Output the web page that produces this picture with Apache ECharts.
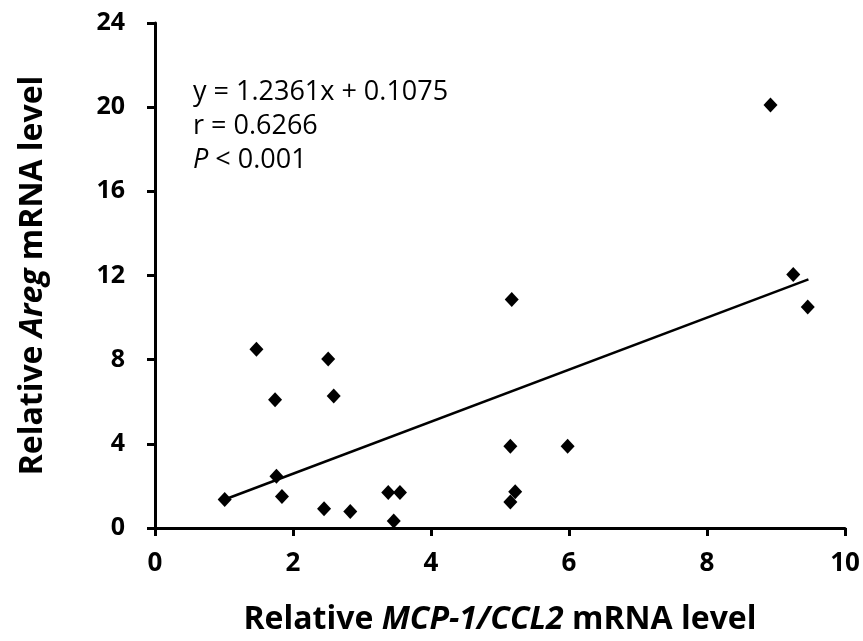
<!DOCTYPE html>
<html>
<head>
<meta charset="utf-8">
<script src="https://cdn.jsdelivr.net/npm/echarts@6/dist/echarts.min.js"></script>
<style>
  html, body { margin: 0; padding: 0; background: #fff; }
  #chart { width: 863px; height: 641px; }
</style>
</head>
<body>
<div id="chart"></div>
<script>
  // 散点数据：MCP-1/CCL2 (x) 与 Areg (y)
  var mcpValues = [1.01, 1.47, 1.74, 1.76, 1.84, 2.45, 2.51, 2.59, 2.83, 3.38, 3.46, 3.55,
                   5.15, 5.15, 5.17, 5.22, 5.98, 8.92, 9.25, 9.46];
  var aregValues = [1.36, 8.50, 6.09, 2.46, 1.50, 0.91, 8.03, 6.27, 0.79, 1.69, 0.33, 1.69,
                    3.89, 1.23, 10.86, 1.72, 3.89, 20.1, 12.05, 10.50];
  // 回归线端点
  var fitX = [1.0, 9.47];
  var slope = 1.2361;
  var intercept = 0.1075;
  var xTicks = [0, 2, 4, 6, 8, 10];
  var yTicks = [0, 4, 8, 12, 16, 20, 24];

  var points = mcpValues.map(function (x, i) { return [x, aregValues[i]]; });
  var fitLine = fitX.map(function (x) { return [x, slope * x + intercept]; });

  var font = '"Open Sans", sans-serif';

  var option = {
    animation: false,
    grid: { left: 155, right: 18, top: 23, bottom: 112 },
    xAxis: {
      type: 'value',
      min: xTicks[0],
      max: xTicks[xTicks.length - 1],
      interval: 2,
      splitLine: { show: false },
      axisLine: { lineStyle: { color: '#000', width: 3 } },
      axisTick: { length: 8, lineStyle: { color: '#000', width: 3 } },
      axisLabel: { color: '#000', fontFamily: font, fontWeight: 'bold', fontSize: 26, margin: 23 },
      name: 'Relative {i|MCP-1/CCL2} mRNA level',
      nameLocation: 'middle',
      nameGap: 76,
      nameTextStyle: {
        color: '#000', fontFamily: font, fontWeight: 'bold', fontSize: 32,
        rich: { i: { color: '#000', fontFamily: font, fontWeight: 'bold', fontStyle: 'italic', fontSize: 32 } }
      }
    },
    yAxis: {
      type: 'value',
      min: yTicks[0],
      max: yTicks[yTicks.length - 1],
      interval: 4,
      splitLine: { show: false },
      axisLine: { show: true, lineStyle: { color: '#000', width: 3 } },
      axisTick: { show: true, length: 8, lineStyle: { color: '#000', width: 3 } },
      axisLabel: { color: '#000', fontFamily: font, fontWeight: 'bold', fontSize: 25, margin: 30 },
      name: 'Relative {i|Areg} mRNA level',
      nameLocation: 'middle',
      nameRotate: 90,
      nameGap: 106,
      nameTextStyle: {
        color: '#000', fontFamily: font, fontWeight: 'bold', fontSize: 32,
        rich: { i: { color: '#000', fontFamily: font, fontWeight: 'bold', fontStyle: 'italic', fontSize: 32 } }
      }
    },
    graphic: [
      {
        type: 'text', left: 193, top: 75,
        style: {
          text: 'y = 1.2361x + 0.1075\nr = 0.6266\n{i|P} < 0.001',
          fill: '#000', font: '27px ' + font, lineHeight: 34,
          rich: { i: { fontStyle: 'italic', fontSize: 27, fontFamily: font, fill: '#000', lineHeight: 34 } }
        }
      }
    ],
    series: [
      {
        type: 'line',
        data: fitLine,
        symbol: 'none',
        lineStyle: { color: '#000', width: 2.5 },
        z: 1
      },
      {
        type: 'scatter',
        data: points,
        symbol: 'diamond',
        symbolSize: [14, 15],
        itemStyle: { color: '#000', opacity: 1 },
        z: 2
      }
    ]
  };

  var myChart = echarts.init(document.getElementById('chart'));
  myChart.setOption(option);
</script>
</body>
</html>
